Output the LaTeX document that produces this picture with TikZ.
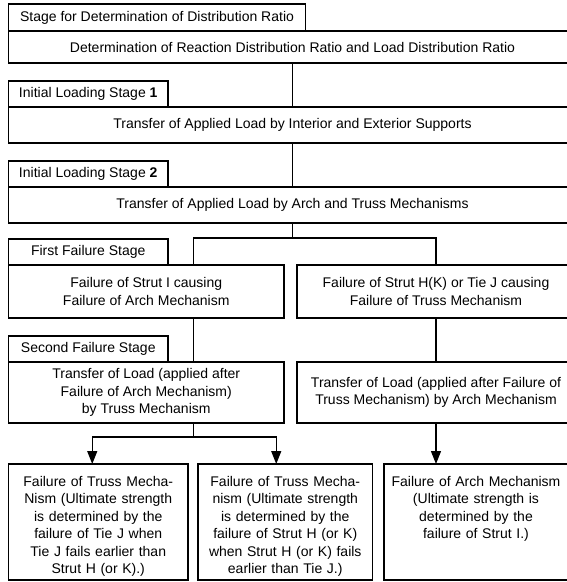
\documentclass[tikz,border=0pt]{standalone}
\usepackage{fontspec}
\setmainfont{Liberation Sans}
\usetikzlibrary{positioning,arrows.meta}

\begin{document}
\begin{tikzpicture}[x=1pt,y=-1pt,
	font=\fontsize{14}{17.5}\selectfont,
	every node/.style={draw, line width=1.1pt, inner sep=0pt, outer sep=0pt, anchor=north west, align=center},
	stagelabel/.style={minimum width=159.5pt, minimum height=26pt},
	stagebox/.style={minimum width=568pt, minimum height=36pt},
	halfbox/.style={minimum width=#1, minimum height=53pt},
	transbox/.style={minimum width=#1, minimum height=61pt},
	leafbox/.style={text width=#1, text height=16pt, text depth=88pt, inner ysep=6pt},
	link/.style={line width=1.1pt},
	flow/.style={line width=1.1pt, -{Triangle[width=10pt,length=13pt]}}]
			\useasboundingbox (0,0) rectangle (567,582);
			
			% distribution ratio
			\node[stagelabel, minimum width=297pt, minimum height=27pt] (lblDist) at (8.5,4) {Stage for Determination of Distribution Ratio};
			\node[stagebox, minimum height=32pt] (det) at (8.5,31) {Determination of Reaction Distribution Ratio and Load Distribution Ratio};
			
			% initial loading
			\node[stagelabel] (lblInit1) at (8.5,81) {Initial Loading Stage \textbf{1}};
			\node[stagebox] (supp) at (8.5,107) {Transfer of Applied Load by Interior and Exterior Supports};
			\node[stagelabel] (lblInit2) at (8.5,161) {Initial Loading Stage \textbf{2}};
			\node[stagebox] (mech) at (8.5,187) {Transfer of Applied Load by Arch and Truss Mechanisms};
			
			% first failure
			\node[stagelabel] (lblFirst) at (8.5,239) {First Failure Stage};
			\node[halfbox=275.5pt] (failArch) at (8.5,265) {Failure of Strut I causing\\Failure of Arch Mechanism};
			\node[halfbox=278pt] (failTruss) at (297,265) {Failure of Strut H(K) or Tie J causing\\Failure of Truss Mechanism};
			
			% second failure
			\node[stagelabel] (lblSecond) at (8.5,336) {Second Failure Stage};
			\node[transbox=275.5pt] (transTruss) at (8.5,362) {Transfer of Load (applied after\\Failure of Arch Mechanism)\\by Truss Mechanism};
			\node[transbox=278pt] (transArch) at (297,362) {Transfer of Load (applied after Failure of\\Truss Mechanism) by Arch Mechanism};
			
			% ultimate strength
			\node[leafbox=179.5pt] (leafTie) at (8.5,464) {Failure of Truss Mecha-\\Nism (Ultimate strength\\is determined by the\\failure of Tie J when\\Tie J fails earlier than\\Strut H (or K).)};
			\node[leafbox=174.5pt] (leafStrut) at (198,464) {Failure of Truss Mecha-\\nism (Ultimate strength\\is determined by the\\failure of Strut H (or K)\\when Strut H (or K) fails\\earlier than Tie J.)};
			\node[leafbox=184pt] (leafArch) at (384,464) {Failure of Arch Mechanism\\(Ultimate strength is\\determined by the\\failure of Strut I.)};
			
			\draw[link] (det) -- (supp);
			\draw[link] (supp) -- (mech);
			\draw[link] (mech.south) -- ++(0,15) coordinate (split);
			\draw[link] ([xshift=47pt]failArch.north) |- (split) -| (failTruss.north);
			\draw[link] ([xshift=47pt]failArch.south) -- ([xshift=47pt]transTruss.north);
			\draw[link] (failTruss) -- (transArch);
			\draw[link] ([xshift=47pt]transTruss.south) -- ++(0,14) coordinate (splitL);
			\draw[flow] (splitL) -| ([xshift=-6pt]leafTie.north);
			\draw[flow] (splitL) -| ([xshift=-9pt]leafStrut.north);
			\draw[flow] (transArch.south) -- (transArch.south |- leafArch.north);
			\end{tikzpicture}
\end{document}
